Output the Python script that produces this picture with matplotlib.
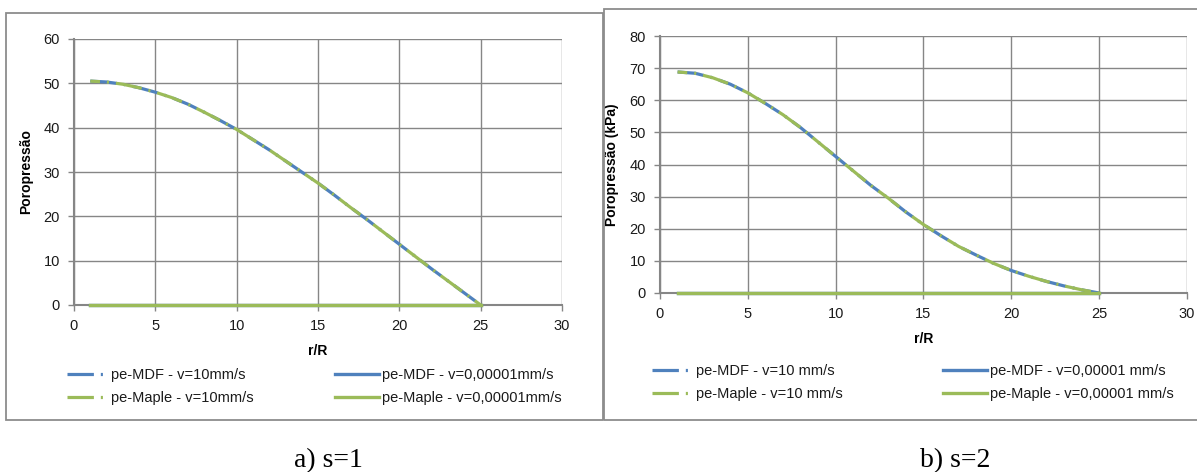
import numpy as np
import matplotlib
matplotlib.use('Agg')
from matplotlib import pyplot as plt
from matplotlib.patches import Rectangle

plt.rcParams['font.family'] = ['Liberation Sans', 'DejaVu Sans']
plt.rcParams['lines.scale_dashes'] = False

# dados
r = [1, 2, 3, 4, 5, 6, 7, 8, 9, 10, 11, 12, 13, 14, 15, 16, 17, 18, 19, 20, 21, 22, 23, 24, 25]
pe_s1 = [50.5, 50.3, 49.8, 49.0, 48.0, 46.8, 45.3, 43.5, 41.6, 39.6, 37.3, 35.0, 32.5,
         30.0, 27.5, 24.8, 22.0, 19.3, 16.5, 13.7, 10.9, 8.1, 5.4, 2.7, 0.0]
pe_s2 = [68.8, 68.4, 67.0, 65.0, 62.3, 59.0, 55.5, 51.5, 47.0, 42.5, 38.0, 33.5, 29.5,
         25.2, 21.3, 17.8, 14.5, 11.8, 9.2, 7.0, 5.2, 3.6, 2.2, 1.0, 0.0]
pe_lento = [0.0] * len(r)  # v=0,00001 mm/s

paineis = [
    dict(y=pe_s1, ymax=60, ylabel='Poropressão', sep='',
         eixo=[74, 39, 562, 305], caixa=[6, 13, 603, 420], legenda=[67, 368, 335],
         titulo='a) s=1', titulo_x=328),
    dict(y=pe_s2, ymax=80, ylabel='Poropressão (kPa)', sep=' ',
         eixo=[660, 36, 1187, 293], caixa=[604, 9, 1210, 420], legenda=[652, 364, 943],
         titulo='b) s=2', titulo_x=955),
]

AZUL = '#4f81bd'
VERDE = '#9bbb59'
CINZA = '#868686'
W, H = 1197, 472
tracejado = (19, 5, 1.5, 5)

fig = plt.figure(figsize=(W / 100, H / 100), dpi=100)


def fx(px):
    return px / W


def fy(py):
    return 1 - py / H


for p in paineis:
    x0, y0, x1, y1 = p['caixa']
    fig.patches.append(Rectangle((fx(x0), fy(y1)), fx(x1 - x0), (y1 - y0) / H,
                                 transform=fig.transFigure, fill=False,
                                 edgecolor='#8c8c8c', linewidth=1.3))

    a0, b0, a1, b1 = p['eixo']
    ax = fig.add_axes([fx(a0), fy(b1), fx(a1 - a0), (b1 - b0) / H])
    h1, = ax.plot(r, p['y'], color=AZUL, lw=2.3, linestyle=(0, tracejado),
                  label='pe-MDF - v=10' + p['sep'] + 'mm/s', clip_on=False, zorder=3)
    h3, = ax.plot(r, pe_lento, color=AZUL, lw=2.4, clip_on=False, zorder=3,
                  label='pe-MDF - v=0,00001' + p['sep'] + 'mm/s')
    h2, = ax.plot(r, p['y'], color=VERDE, lw=2.3, linestyle=(12, tracejado),
                  label='pe-Maple - v=10' + p['sep'] + 'mm/s', clip_on=False, zorder=3)
    h4, = ax.plot(r, pe_lento, color=VERDE, lw=2.4, clip_on=False, zorder=3,
                  label='pe-Maple - v=0,00001' + p['sep'] + 'mm/s')

    ax.set_xlim(0, 30)
    ax.set_ylim(0, p['ymax'])
    ax.set_xticks(range(0, 31, 5))
    ax.set_yticks(range(0, p['ymax'] + 1, 10))
    ax.grid(True, color=CINZA, lw=1)
    ax.set_axisbelow(True)
    for s in ['top', 'right']:
        ax.spines[s].set_visible(False)
    for s in ['left', 'bottom']:
        ax.spines[s].set_color(CINZA)
        ax.spines[s].set_linewidth(1.5)
        ax.spines[s].set_zorder(1)
    ax.tick_params(length=4, width=1, color=CINZA, labelsize=10.5, pad=6, labelcolor='#1a1a1a')
    ax.set_xlabel('r/R', fontsize=10, fontweight='bold', labelpad=8)
    ax.set_ylabel(p['ylabel'], fontsize=10, fontweight='bold', labelpad=8)

    lx, ly, lx2 = p['legenda']
    for hs, xx, hl, tp in [([h1, h2], lx, 2.45, 0.55), ([h3, h4], lx2, 3.0, 0.2)]:
        leg = fig.legend(handles=hs, loc='upper left', bbox_to_anchor=(fx(xx), fy(ly)),
                         frameon=False, fontsize=10.5, handlelength=hl, handletextpad=tp,
                         labelspacing=0.62, borderpad=0, borderaxespad=0)
        for t in leg.get_texts():
            t.set_color('#1a1a1a')
        if hs[0] is h1:
            for lh in leg.legend_handles:
                lh.set_linestyle((0, tracejado))

    fig.text(fx(p['titulo_x']), fy(467), p['titulo'], ha='center', va='baseline',
             fontsize=20, family='Liberation Serif')

fig.savefig('out.png', dpi=100)
